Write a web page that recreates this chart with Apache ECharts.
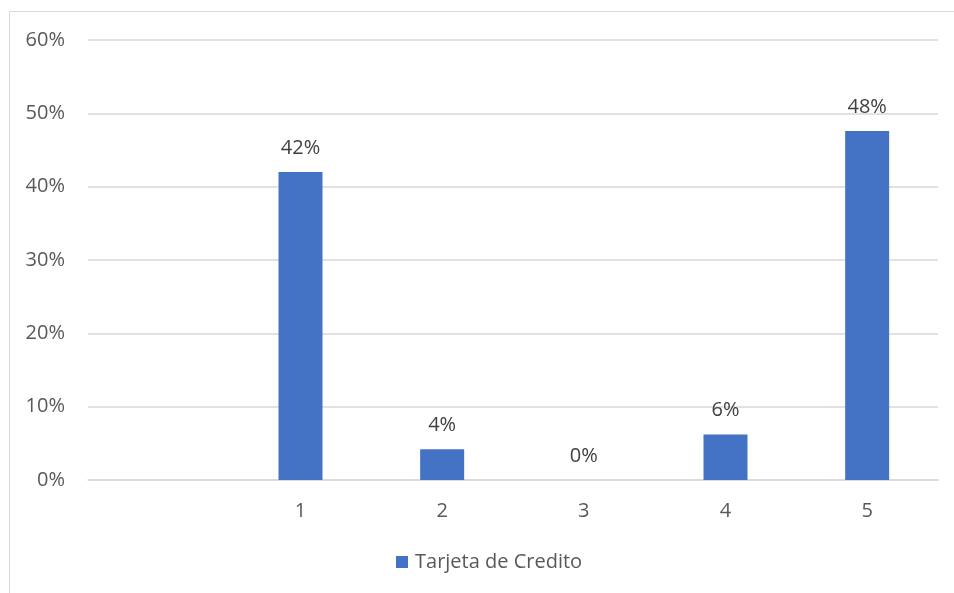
<!DOCTYPE html>
<html><head><meta charset="utf-8">
<script src="https://cdn.jsdelivr.net/npm/echarts@6/dist/echarts.min.js"></script>
<style>
html,body{margin:0;padding:0;background:#fff;}
#frame{position:absolute;left:9px;top:11px;width:1000px;height:700px;border:1px solid #d9d9d9;box-sizing:border-box;}
#c{position:absolute;left:0;top:0;width:954px;height:593px;}
</style></head>
<body>
<div id="frame"></div>
<div id="c"></div>
<script>
const categories = ["", "1", "2", "3", "4", "5"];
const seriesName = "Tarjeta de Credito";
const values = [null, 0.42, 0.042, 0, 0.062, 0.476];
const yTicks = [0, 0.1, 0.2, 0.3, 0.4, 0.5, 0.6];

const chart = echarts.init(document.getElementById('c'), null, {renderer:'canvas'});
const font = '"Open Sans", sans-serif';
chart.setOption({
  animation:false,
  grid:{left:88, right:16, top:40, bottom:113, containLabel:false},
  legend:{
    data:[seriesName], top:552, left:396, icon:'rect', itemWidth:12, itemHeight:12, itemGap:6, padding:0,
    textStyle:{color:'#595959', fontSize:20, fontFamily:font, padding:[0,0,0,2]}
  },
  xAxis:{
    type:'category', data:categories,
    axisLine:{show:true, lineStyle:{color:'#d9d9d9', width:1.5}},
    axisTick:{show:false},
    axisLabel:{color:'#595959', fontSize:20, fontFamily:font, margin:21}
  },
  yAxis:{
    type:'value', min:0, max:0.6, interval:0.1,
    axisLine:{show:false}, axisTick:{show:false},
    splitLine:{lineStyle:{color:'#d9d9d9', width:1.5}},
    axisLabel:{color:'#595959', fontSize:20, fontFamily:font, margin:23,
      formatter:v=>Math.round(v*100)+'%'}
  },
  series:[{
    name:seriesName, type:'bar', data:values, barWidth:44,
    itemStyle:{color:'#4472c4'},
    label:{show:true, position:'top', distance:14, color:'#404040', fontSize:20, fontFamily:font,
      formatter:p=>p.value==null?'':Math.round(p.value*100)+'%'}
  }]
});
</script>
</body></html>
